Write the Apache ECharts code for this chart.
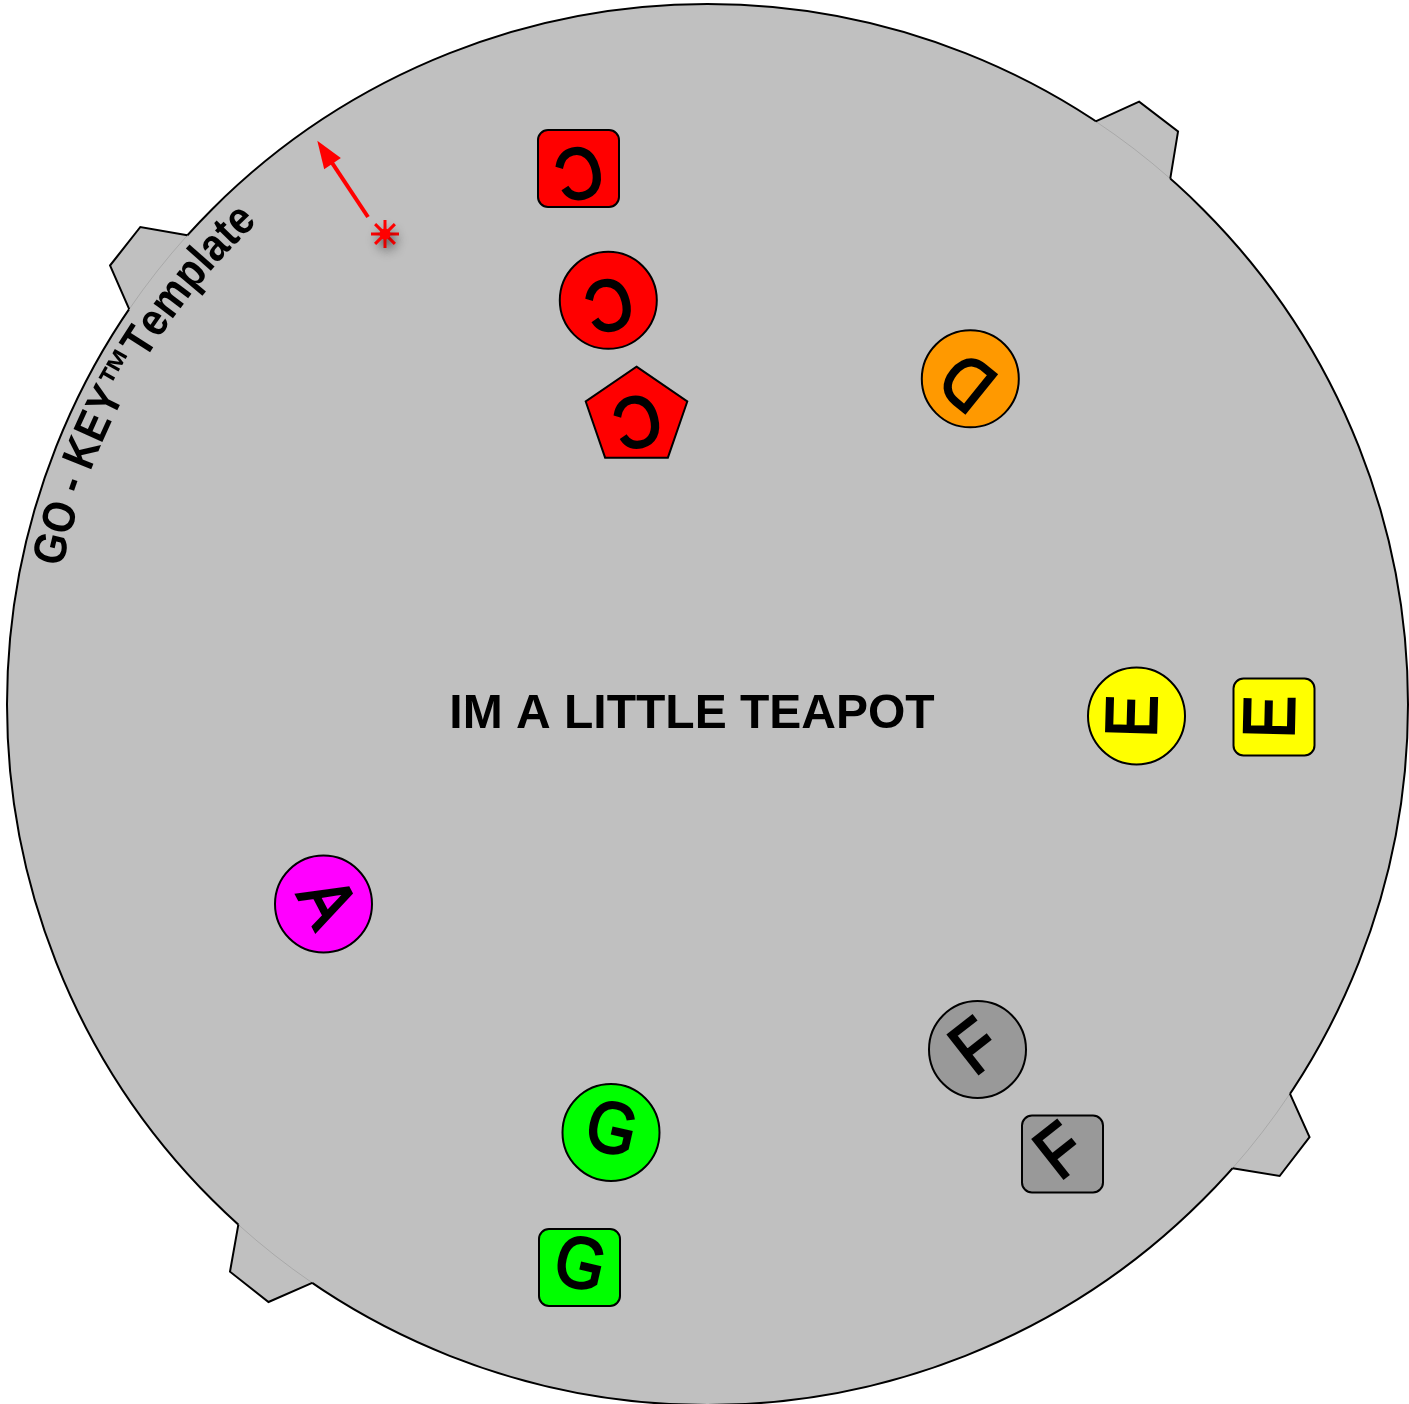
<!DOCTYPE html>
<html><head><meta charset="utf-8">
<script src="https://cdn.jsdelivr.net/npm/echarts@6/dist/echarts.min.js"></script>
<style>html,body{margin:0;padding:0;background:#fff;}#c{width:1409px;height:1404px;}</style>
</head><body><div id="c"></div>
<script>
// ---------------- data ----------------
const plateCenter = [707.5, 704.5];
const plateRadius = 700.5;
const tabAngles = [52.5, 141.8, 231.8, 322.4];
const markerX = [578.5, 608.3, 636.5, 970.3, 1136.5, 1274, 323.5, 977.5, 1062.5, 611, 579.5];
const markerY = [168.5, 300.3, 417, 378.8, 716, 717, 904, 1049.5, 1154, 1132.5, 1267.5];
const markerShapes = ['square', 'circle', 'pentagon', 'circle', 'circle', 'square', 'circle', 'circle', 'square', 'circle', 'square'];
const markerLetters = ['C', 'C', 'C', 'D', 'E', 'E', 'A', 'F', 'F', 'G', 'G'];
const arrowFrom = [368, 217];
const arrowTo = [317.3, 140.7];
const starPoint = [385, 234];
const titleText = 'IM A LITTLE TEAPOT';
const templateText = 'GO - KEY\u2122Template';

// ---------------- styles ----------------
const letterColors = { A: '#ff00ff', C: '#ff0000', D: '#ff9900', E: '#ffff00', F: '#999999', G: '#00ff00' };
const FONT = '"Liberation Sans", Arial, Helvetica, sans-serif';

const chart = echarts.init(document.getElementById('c'), null, { renderer: 'canvas' });
const mctx = document.createElement('canvas').getContext('2d');

function plateRender(params, api) {
  const c = api.coord([api.value(0), api.value(1)]);
  const r = api.size([api.value(2), 0])[0];
  const children = [{ type: 'circle', shape: { cx: c[0], cy: c[1], r: r }, style: { fill: '#c0c0c0', stroke: '#000', lineWidth: 2 } }];
  tabAngles.forEach(function (a) {
    const t = a * Math.PI / 180;
    const u = [Math.cos(t), -Math.sin(t)], v = [-Math.sin(t), -Math.cos(t)];
    const P = function (rr, tt) { return [c[0] + rr * u[0] + tt * v[0], c[1] + rr * u[1] + tt * v[1]]; };
    const hb = 47, ho = 24.5, h = 40.5;
    const rb = Math.sqrt(r * r - hb * hb);
    const b1 = P(rb, hb), o1 = P(r + h, ho), o2 = P(r + h, -ho), b2 = P(rb, -hb);
    children.push({ type: 'polygon', shape: { points: [P(rb - 12, hb), b1, o1, o2, b2, P(rb - 12, -hb)] }, style: { fill: '#c0c0c0', stroke: null } });
    const d = hb / r;
    children.push({ type: 'arc', shape: { cx: c[0], cy: c[1], r: r, startAngle: -(t + d), endAngle: -(t - d), clockwise: true }, style: { fill: null, stroke: 'rgba(0,0,0,0.12)', lineWidth: 1 } });
    children.push({ type: 'polyline', shape: { points: [b1, o1, o2, b2] }, style: { fill: null, stroke: '#000', lineWidth: 2, lineJoin: 'miter' } });
  });
  // curved template text
  const fs = 46, sx = 0.88;
  mctx.font = 'bold ' + fs + 'px ' + FONT;
  const Rb = r - 45;
  const Ra = Rb + 0.36 * fs;
  let s = 0;
  const phi0 = 168.0 * Math.PI / 180;
  for (const ch of templateText) {
    const w = mctx.measureText(ch).width * sx;
    const phi = phi0 - (s + w / 2) / Rb;
    s += w;
    if (ch === ' ') continue;
    children.push({
      type: 'text', x: c[0] + Ra * Math.cos(phi), y: c[1] - Ra * Math.sin(phi), rotation: phi - Math.PI / 2, scaleX: sx,
      style: { text: ch, fill: '#000', font: 'bold ' + fs + 'px ' + FONT, align: 'center', verticalAlign: 'middle' }
    });
  }
  return { type: 'group', children: children };
}

function markerRender(params, api) {
  const x = api.value(0), y = api.value(1), i = params.dataIndex;
  const p = api.coord([x, y]);
  const letter = markerLetters[i];
  const st = { fill: letterColors[letter], stroke: '#000', lineWidth: 2 };
  const phi = Math.atan2(-(y - plateCenter[1]), x - plateCenter[0]);
  let el;
  const kind = markerShapes[i];
  if (kind === 'circle') {
    el = { type: 'circle', shape: { cx: p[0], cy: p[1], r: 48.5 }, style: st };
  } else if (kind === 'square') {
    el = { type: 'rect', shape: { x: p[0] - 40.5, y: p[1] - 38.5, width: 81, height: 77, r: 10 }, style: st };
  } else {
    const pts = [];
    for (let k = 0; k < 5; k++) {
      const a = Math.PI / 2 - k * 2 * Math.PI / 5;
      pts.push([p[0] + 53.4 * Math.cos(a), p[1] - 50.3 * Math.sin(a)]);
    }
    el = { type: 'polygon', shape: { points: pts }, style: st };
  }
  const txt = {
    type: 'text', x: p[0], y: p[1], rotation: phi + Math.PI / 2, scaleX: 0.88,
    style: { text: letter, fill: '#000', stroke: '#000', lineWidth: 2.6, lineJoin: 'miter', font: '72px ' + FONT, align: 'center', verticalAlign: 'middle' }
  };
  return { type: 'group', children: [el, txt] };
}

function arrowRender(params, api) {
  const a = api.coord([api.value(0), api.value(1)]);
  const b = api.coord([api.value(2), api.value(3)]);
  const dx = b[0] - a[0], dy = b[1] - a[1];
  const L = Math.hypot(dx, dy);
  const ux = dx / L, uy = dy / L;
  const hl = 27.5, hw = 10;
  const base = [b[0] - ux * hl, b[1] - uy * hl];
  return {
    type: 'group', children: [
      { type: 'line', shape: { x1: a[0], y1: a[1], x2: base[0] + ux * 2, y2: base[1] + uy * 2 }, style: { stroke: '#ff0000', lineWidth: 4 } },
      { type: 'polygon', shape: { points: [b, [base[0] - uy * hw, base[1] + ux * hw], [base[0] + uy * hw, base[1] - ux * hw]] }, style: { fill: '#ff0000' } }
    ]
  };
}

function starRender(params, api) {
  const p = api.coord([api.value(0), api.value(1)]);
  const children = [];
  const sh = { shadowBlur: 9, shadowColor: 'rgba(0,0,0,0.4)', shadowOffsetX: 2, shadowOffsetY: 6 };
  for (let k = 0; k < 4; k++) {
    const a = k * Math.PI / 4;
    children.push({ type: 'line', shape: { x1: p[0] - 14 * Math.cos(a), y1: p[1] - 14 * Math.sin(a), x2: p[0] + 14 * Math.cos(a), y2: p[1] + 14 * Math.sin(a) }, style: Object.assign({ stroke: '#ff0000', lineWidth: 3 }, sh) });
  }
  children.push({ type: 'circle', shape: { cx: p[0], cy: p[1], r: 5.5 }, style: { fill: '#ff0000' } });
  return { type: 'group', children: children };
}

chart.setOption({
  animation: false,
  grid: { left: 0, right: 0, top: 0, bottom: 0 },
  xAxis: { type: 'value', min: 0, max: 1409, show: false },
  yAxis: { type: 'value', min: 0, max: 1404, inverse: true, show: false },
  graphic: [{
    type: 'text', x: 692, y: 715, z: 100,
    style: { text: titleText, fill: '#000', font: 'bold 48px ' + FONT, align: 'center', verticalAlign: 'middle' }
  }],
  series: [
    { type: 'custom', name: 'plate', clip: false, silent: true, z: 1, data: [[plateCenter[0], plateCenter[1], plateRadius]], renderItem: plateRender },
    { type: 'custom', name: 'arrow', clip: false, silent: true, z: 3, data: [[arrowFrom[0], arrowFrom[1], arrowTo[0], arrowTo[1]]], renderItem: arrowRender },
    { type: 'custom', name: 'star', clip: false, silent: true, z: 3, data: [starPoint], renderItem: starRender },
    { type: 'custom', name: 'markers', clip: false, silent: true, z: 4, data: markerX.map(function (x, i) { return [x, markerY[i]]; }), renderItem: markerRender }
  ]
});
</script></body></html>
